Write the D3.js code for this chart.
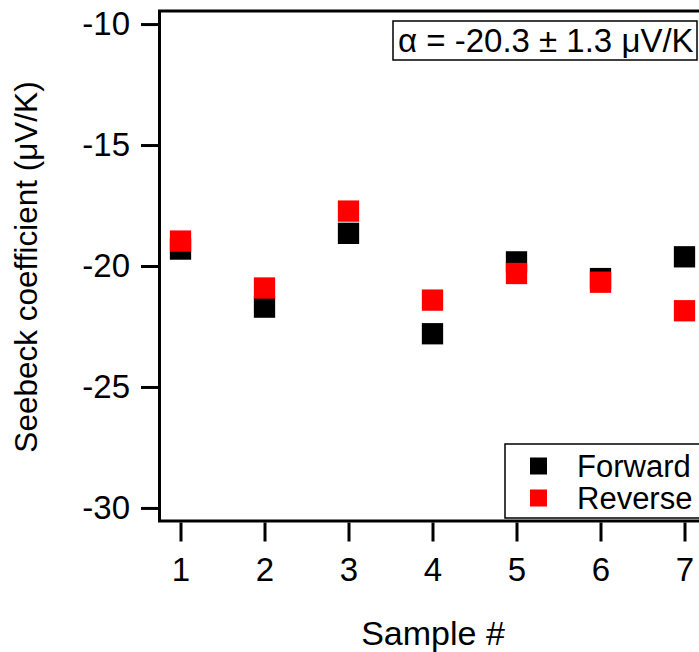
<!DOCTYPE html>
<html>
<head>
<meta charset="utf-8">
<script src="https://cdn.jsdelivr.net/npm/d3@7/dist/d3.min.js"></script>
<style>
  html, body { margin: 0; padding: 0; background: #fff; }
  svg { display: block; }
  text { font-family: "Liberation Sans", Arial, Helvetica, sans-serif; fill: #000; }
</style>
</head>
<body>
<svg id="chart" width="699" height="652"></svg>
<script>
// ---- data ----
const samples = [1, 2, 3, 4, 5, 6, 7];
const forward = [-19.3, -21.7, -18.65, -22.8, -19.83, -20.52, -19.62];
const reverse = [-18.97, -20.91, -17.73, -21.41, -20.31, -20.67, -21.85];
const yTicks = [-10, -15, -20, -25, -30];
const xTicks = [1, 2, 3, 4, 5, 6, 7];
const seriesNames = ["Forward", "Reverse"];
const seriesColors = ["#000000", "#ff0000"];
const annotation = "α = -20.3 ± 1.3 μV/K";
const xTitle = "Sample #";
const yTitle = "Seebeck coefficient (μV/K)";

(function () {
// ---- layout ----
const svg = d3.select("#chart");
const pLeft = 159.5, pRight = 705.5, pTop = 11, pBottom = 521;
const x = d3.scaleLinear().domain([0.75, 7.25]).range([pLeft, pRight]);
const y = d3.scaleLinear().domain([-30.54, -9.46]).range([pBottom, pTop]);
const fs = 33;
const fmt = d => String(d);

// frame (top + left + bottom lines)
svg.append("path")
  .attr("d", `M${699},${pTop} H${pLeft} V${pBottom} H${699}`)
  .attr("fill", "none").attr("stroke", "#000").attr("stroke-width", 3);

// y axis
const yAxis = svg.append("g")
  .attr("transform", `translate(${pLeft - 1.5},0)`)
  .call(d3.axisLeft(y).tickValues(yTicks).tickFormat(fmt).tickSize(17).tickSizeOuter(0).tickPadding(11));
yAxis.select(".domain").remove();
yAxis.selectAll(".tick line").attr("stroke-width", 3);
yAxis.selectAll(".tick text").attr("font-size", fs).attr("font-family", "Liberation Sans, Arial, sans-serif");

// x axis
const xAxis = svg.append("g")
  .attr("transform", `translate(0,${pBottom + 1.5})`)
  .call(d3.axisBottom(x).tickValues(xTicks).tickFormat(fmt).tickSize(19).tickSizeOuter(0).tickPadding(16));
xAxis.select(".domain").remove();
xAxis.selectAll(".tick line").attr("stroke-width", 3);
xAxis.selectAll(".tick text").attr("font-size", fs).attr("font-family", "Liberation Sans, Arial, sans-serif");

// axis titles
svg.append("text")
  .attr("x", 433).attr("y", 645)
  .attr("text-anchor", "middle").attr("font-size", 34)
  .text(xTitle);
svg.append("text")
  .attr("transform", `translate(37,267) rotate(-90)`)
  .attr("text-anchor", "middle").attr("font-size", 31.5)
  .text(yTitle);

// markers
const ms = 21.3;
const series = [forward, reverse];
series.forEach((vals, si) => {
  svg.append("g").selectAll("rect")
    .data(samples.map((s, i) => ({ s, v: vals[i] })))
    .join("rect")
    .attr("x", d => x(d.s) - ms / 2)
    .attr("y", d => y(d.v) - ms / 2)
    .attr("width", ms).attr("height", ms)
    .attr("fill", seriesColors[si]);
});

// annotation box
const ann = svg.append("g");
ann.append("rect")
  .attr("x", 393).attr("y", 21).attr("width", 304).attr("height", 39)
  .attr("fill", "#fff").attr("stroke", "#000").attr("stroke-width", 1.5);
ann.append("text")
  .attr("x", 398).attr("y", 52)
  .attr("font-size", 33)
  .text(annotation);

// legend
const lg = svg.append("g");
lg.append("rect")
  .attr("x", 505).attr("y", 444).attr("width", 220).attr("height", 74)
  .attr("fill", "#fff").attr("stroke", "#000").attr("stroke-width", 1.5);
const lms = 17;
seriesNames.forEach((name, i) => {
  const cy = 466 + i * 32;
  lg.append("rect")
    .attr("x", 538.5 - lms / 2).attr("y", cy - lms / 2)
    .attr("width", lms).attr("height", lms)
    .attr("fill", seriesColors[i]);
  lg.append("text")
    .attr("x", 577).attr("y", cy + 11)
    .attr("font-size", 31)
    .text(name);
});
})();
</script>
</body>
</html>
